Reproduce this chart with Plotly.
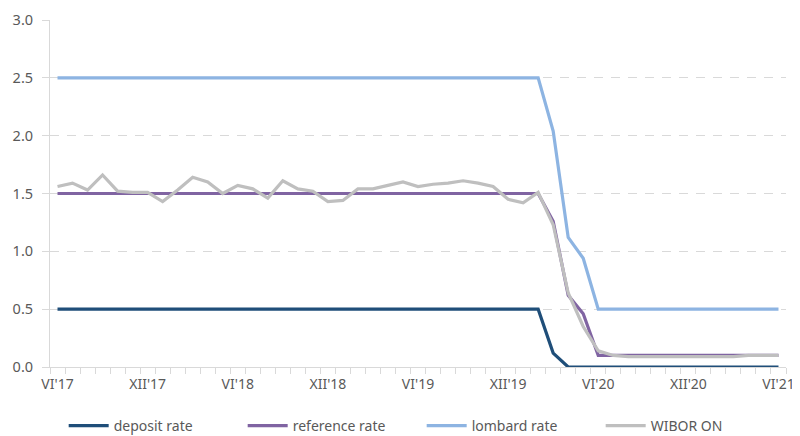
import plotly.graph_objects as go

roman = ["I", "II", "III", "IV", "V", "VI", "VII", "VIII", "IX", "X", "XI", "XII"]
months = []
for k in range(49):
    m = (5 + k) % 12
    y = 17 + (5 + k) // 12
    months.append(f"{roman[m]}'{y}")

deposit_rate = [0.5] * 33 + [0.12] + [0.0] * 15
reference_rate = [1.5] * 33 + [1.26, 0.62, 0.46] + [0.1] * 13
lombard_rate = [2.5] * 33 + [2.04, 1.12, 0.94] + [0.5] * 13
wibor_on = [1.56, 1.59, 1.53, 1.66, 1.52, 1.51, 1.51, 1.43, 1.53, 1.64,
            1.60, 1.50, 1.57, 1.54, 1.46, 1.61, 1.54, 1.52, 1.43, 1.44,
            1.54, 1.54, 1.57, 1.60, 1.56, 1.58, 1.59, 1.61, 1.59, 1.56,
            1.45, 1.42, 1.51, 1.23, 0.64, 0.35, 0.14, 0.10, 0.09, 0.09,
            0.09, 0.09, 0.09, 0.09, 0.09, 0.09, 0.10, 0.10, 0.10]

tick_idx = list(range(0, 49, 6))
tick_text = [months[i] for i in tick_idx]

series = [
    ("deposit rate", deposit_rate, "#1F4E79"),
    ("reference rate", reference_rate, "#8064A2"),
    ("lombard rate", lombard_rate, "#8DB4E2"),
    ("WIBOR ON", wibor_on, "#BFBFBF"),
]

x = list(range(len(months)))
fig = go.Figure()
for name, vals, col in series:
    fig.add_trace(go.Scatter(x=x, y=vals, name=name, mode="lines",
                             line=dict(color=col, width=3.2),
                             customdata=months,
                             hovertemplate="%{customdata}: %{y}<extra>" + name + "</extra>"))

font_color = "#595959"
fig.update_layout(
    width=792, height=428,
    margin=dict(l=42, r=14, t=12, b=69, autoexpand=False),
    paper_bgcolor="white", plot_bgcolor="white",
    font=dict(family="Noto Sans", size=13, color=font_color),
    showlegend=True,
    legend=dict(orientation="h", x=0.505, xanchor="center",
                y=-0.17, yanchor="middle",
                font=dict(size=14, color=font_color), entrywidth=124, itemwidth=40),
)
fig.update_xaxes(
    range=[-0.5, 48.5], tickmode="array", tickvals=tick_idx, ticktext=tick_text,
    ticks="", showgrid=False, zeroline=False, automargin=False,
    showline=True, linecolor="#D9D9D9", linewidth=1,
    tickfont=dict(size=14, color=font_color), ticklabelstandoff=4,
    minor=dict(tickmode="linear", tick0=-0.5, dtick=1, ticks="outside", ticklen=6,
               tickcolor="#D9D9D9", showgrid=False),
)
fig.update_yaxes(
    range=[0, 3.0], dtick=0.5, tickformat=".1f", automargin=False,
    showgrid=True, gridcolor="#D9D9D9", griddash="9px,8px", gridwidth=1,
    zeroline=False, showline=True, linecolor="#D9D9D9", linewidth=1,
    ticks="outside", ticklen=7, tickcolor="#D9D9D9", ticklabelstandoff=6,
    tickfont=dict(size=14.5, color=font_color),
)

fig.write_html("out.html")
